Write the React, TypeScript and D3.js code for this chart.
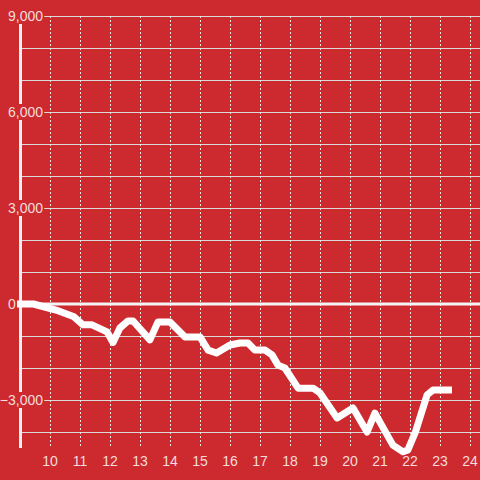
import React, { useEffect, useRef } from "react";
import * as d3 from "d3";

const xValues = [8.9, 9.45, 10.2, 10.8, 11.1, 11.4, 11.9, 12.1, 12.33, 12.6, 12.77, 13.33, 13.6, 14.0, 14.5, 15.0, 15.27, 15.55, 16.0, 16.33, 16.6, 16.83, 17.17, 17.4, 17.6, 17.83, 18.27, 18.77, 19.0, 19.57, 20.1, 20.57, 20.83, 21.43, 21.77, 21.93, 22.17, 22.57, 22.77, 23.4];
const yValues = [0, 0, -190, -400, -650, -650, -870, -1200, -750, -530, -530, -1120, -560, -560, -1030, -1030, -1440, -1530, -1280, -1220, -1220, -1440, -1440, -1590, -1910, -2000, -2630, -2630, -2780, -3560, -3250, -4000, -3410, -4410, -4620, -4560, -4030, -2840, -2690, -2690];
const xTicks = [10, 11, 12, 13, 14, 15, 16, 17, 18, 19, 20, 21, 22, 23, 24];
const yGrid = [-4000, -3000, -2000, -1000, 0, 1000, 2000, 3000, 4000, 5000, 6000, 7000, 8000, 9000];
const yLabels = [-3000, 0, 3000, 6000, 9000];

const W = 480;
const H = 480;
const BG = "#cc2a2f";
const TXT = "#f6dcdc";
const FONT = "'Liberation Sans', Arial, sans-serif";

export default function App() {
  const ref = useRef<SVGSVGElement>(null);
  useEffect(() => {
    const svg = d3.select(ref.current);
    svg.selectAll("*").remove();
    const x = d3.scaleLinear().domain([9, 24 + 1 / 3]).range([20, 480]);
    const y = d3.scaleLinear().domain([-4500, 9000]).range([448, 16]);

    svg.append("rect").attr("width", W).attr("height", H).attr("fill", BG);

    // horizontal grid
    svg.append("g").selectAll("line").data(yGrid.filter(v => v !== 0)).join("line")
      .attr("x1", 20).attr("x2", W)
      .attr("y1", d => Math.round(y(d)) + 0.5).attr("y2", d => Math.round(y(d)) + 0.5)
      .attr("stroke", "#d9d9d9").attr("stroke-width", 1);

    // vertical dotted grid
    svg.append("g").selectAll("line").data(xTicks).join("line")
      .attr("x1", d => Math.round(x(d)) + 0.5).attr("x2", d => Math.round(x(d)) + 0.5)
      .attr("y1", y(9000)).attr("y2", y(-4500))
      .attr("stroke", "#e6e6e6").attr("stroke-width", 1).attr("stroke-dasharray", "2,2");

    // y axis line
    svg.append("line").attr("x1", 20.5).attr("x2", 20.5)
      .attr("y1", y(9000)).attr("y2", y(-4500))
      .attr("stroke", "#f2f2f2").attr("stroke-width", 3);

    // zero line
    svg.append("line").attr("x1", 17).attr("x2", W)
      .attr("y1", y(0)).attr("y2", y(0))
      .attr("stroke", "#f4f4f4").attr("stroke-width", 3);

    // y labels with background
    const fmt = d3.format(",");
    const yl = svg.append("g").selectAll("g").data(yLabels).join("g")
      .attr("transform", d => (d === 0 ? `translate(8,${y(d)})` : `translate(43,${y(d)})`));
    yl.each(function (d) {
      const g = d3.select(this);
      const t = g.append("text").text(fmt(d))
        .attr("text-anchor", d === 0 ? "start" : "end").attr("dy", "0.35em")
        .attr("font-family", FONT).attr("font-size", 14).attr("fill", TXT);
      if (d !== 0) {
        const bb = (t.node() as SVGTextElement).getBBox();
        g.insert("rect", "text").attr("x", bb.x - 1).attr("y", -8)
          .attr("width", bb.width + 2).attr("height", 16).attr("fill", BG);
      }
    });

    // x labels
    svg.append("g").selectAll("text").data(xTicks).join("text")
      .attr("x", d => x(d)).attr("y", 466)
      .attr("text-anchor", "middle")
      .attr("font-family", FONT).attr("font-size", 14).attr("fill", TXT)
      .text(d => String(d));

    // data line
    const pts = xValues.map((v, i) => [v, yValues[i]] as [number, number]);
    const line = d3.line<[number, number]>().x(d => x(d[0])).y(d => y(d[1]));
    svg.append("path").attr("d", line(pts) || "")
      .attr("fill", "none").attr("stroke", "#ffffff").attr("stroke-width", 7)
      .attr("stroke-linejoin", "round");
  }, []);
  return (
    <svg ref={ref} width={W} height={H} style={{ position: "absolute", left: 0, top: 0 }} />
  );
}
